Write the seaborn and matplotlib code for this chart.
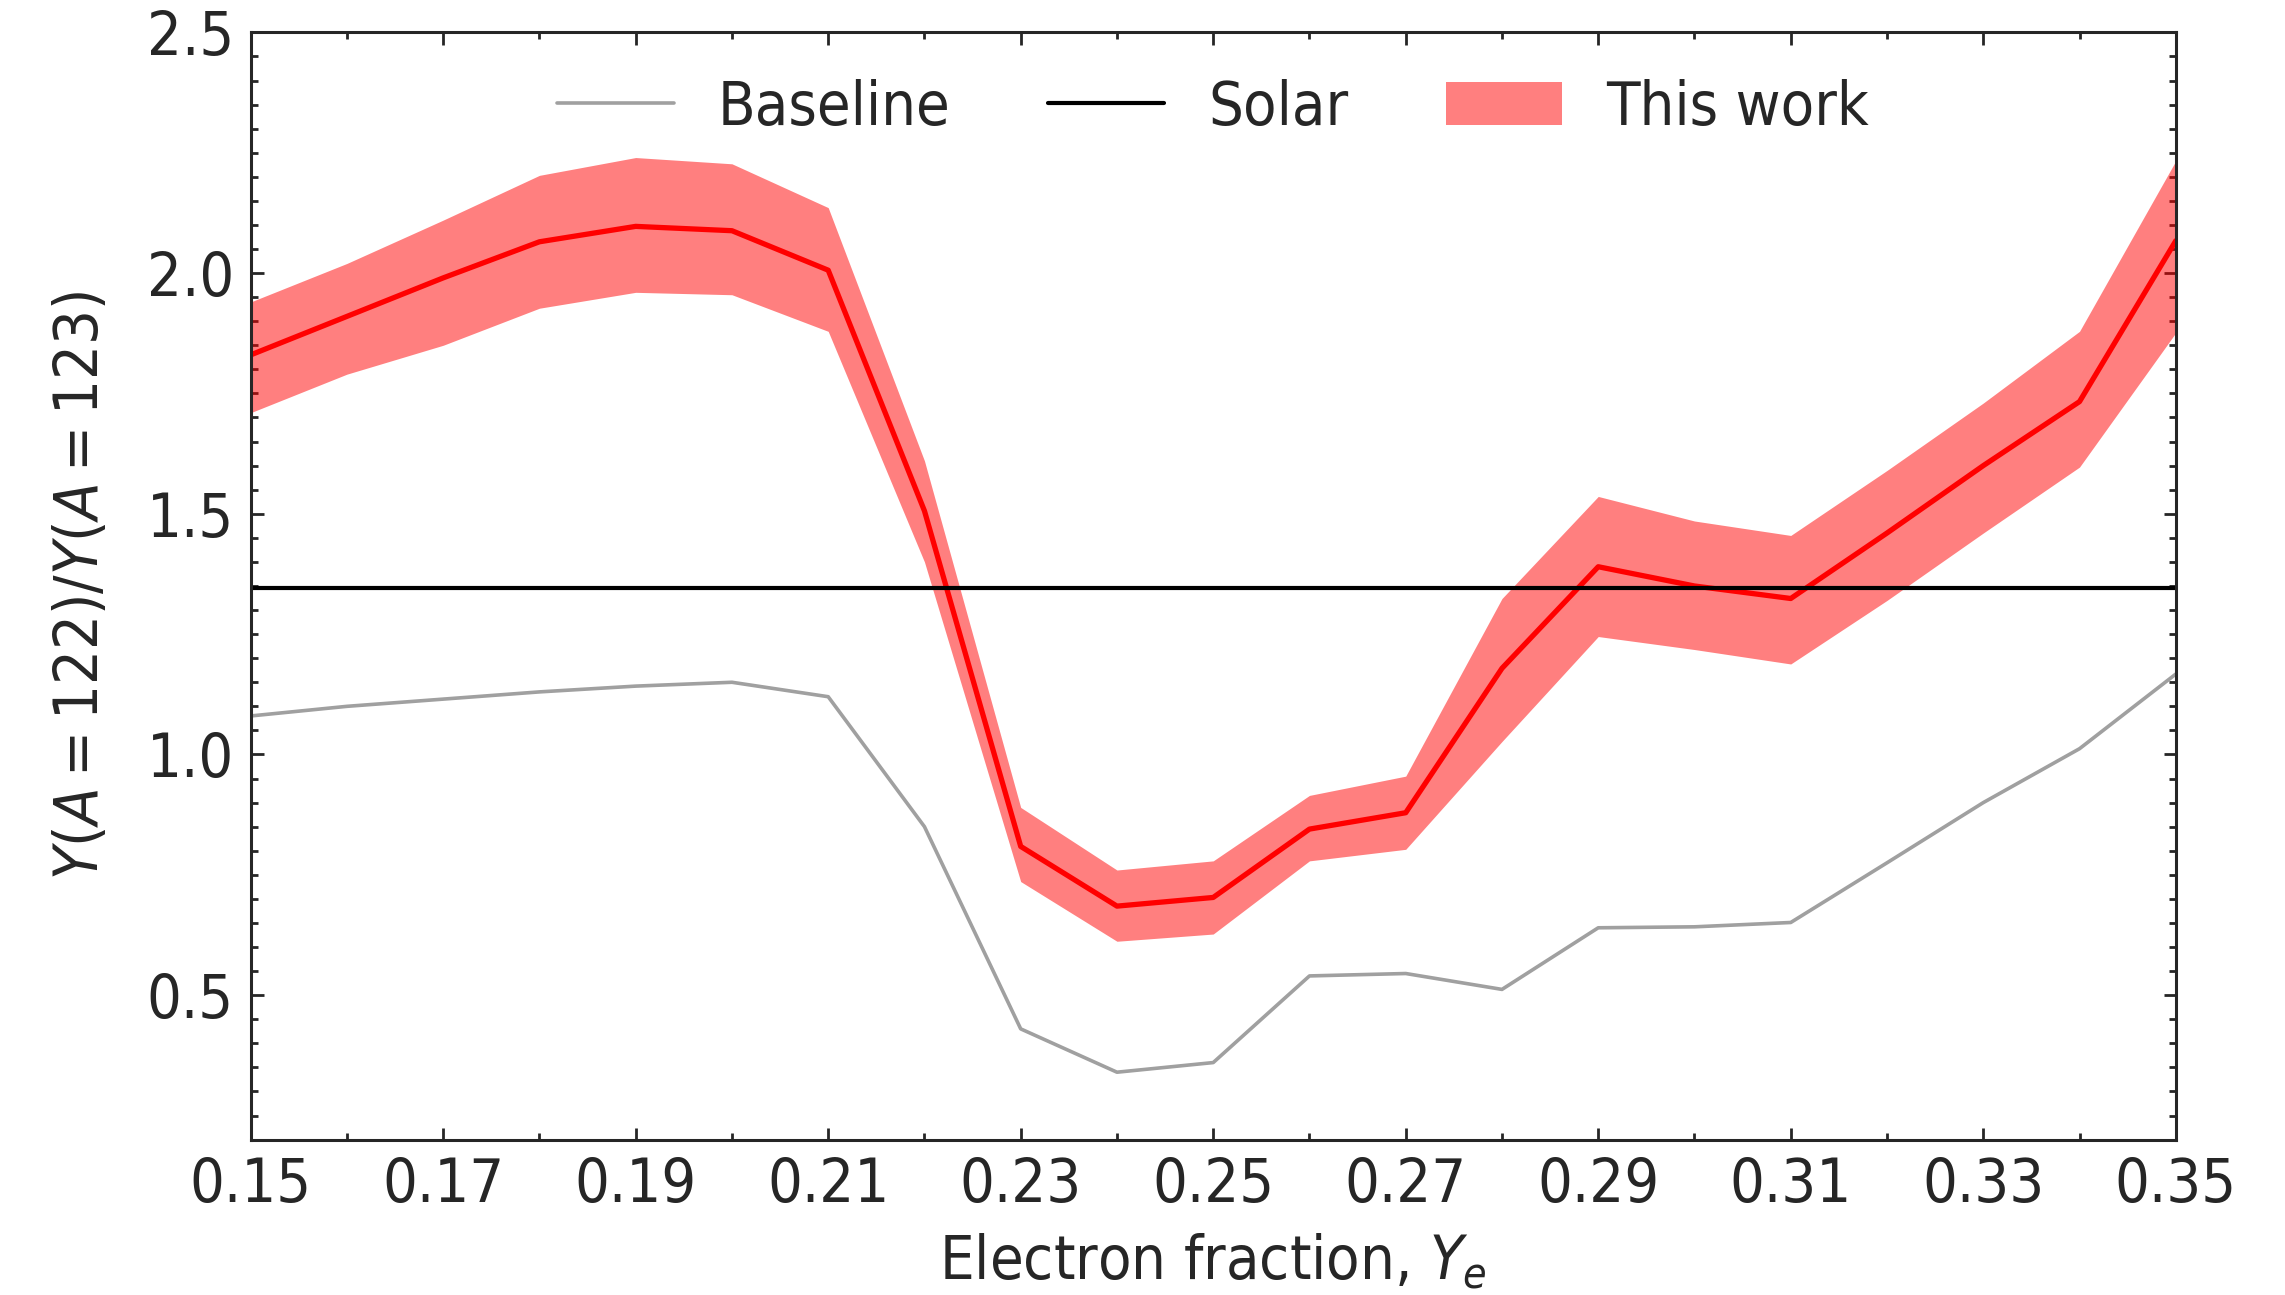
import numpy as np
import pandas as pd
import seaborn as sns
import matplotlib.pyplot as plt
from matplotlib.patches import Patch
from matplotlib.lines import Line2D
from matplotlib.ticker import FixedLocator, MultipleLocator
from matplotlib import font_manager

# electron fraction grid
ye = [0.15, 0.16, 0.17, 0.18, 0.19, 0.20, 0.21, 0.22, 0.23, 0.24, 0.25,
      0.26, 0.27, 0.28, 0.29, 0.30, 0.31, 0.32, 0.33, 0.34, 0.35]

# Y(122)/Y(123) ratios
baseline = [1.08, 1.10, 1.115, 1.13, 1.142, 1.15, 1.12, 0.85, 0.43, 0.34, 0.36,
            0.54, 0.545, 0.512, 0.64, 0.642, 0.651, 0.775, 0.90, 1.012, 1.167]
this_work = [1.83, 1.91, 1.99, 2.065, 2.097, 2.088, 2.006, 1.506, 0.809, 0.685, 0.703,
             0.845, 0.879, 1.179, 1.39, 1.35, 1.324, 1.46, 1.60, 1.733, 2.067]
upper = [1.94, 2.02, 2.11, 2.203, 2.24, 2.227, 2.136, 1.61, 0.89, 0.76, 0.779,
         0.915, 0.955, 1.324, 1.536, 1.485, 1.455, 1.59, 1.73, 1.879, 2.233]
lower = [1.71, 1.79, 1.85, 1.927, 1.96, 1.955, 1.879, 1.40, 0.736, 0.612, 0.627,
         0.779, 0.803, 1.027, 1.245, 1.218, 1.188, 1.32, 1.46, 1.597, 1.876]
solar = 1.345

xticks = [0.15, 0.17, 0.19, 0.21, 0.23, 0.25, 0.27, 0.29, 0.31, 0.33, 0.35]

df = pd.DataFrame({'ye': ye, 'baseline': baseline, 'this_work': this_work,
                   'upper': upper, 'lower': lower})

sns.set_style('ticks')
plt.rcParams['font.family'] = ['DejaVu Sans']
plt.rcParams['mathtext.fontset'] = 'dejavusans'

# the original text is narrow; use the condensed face if it is there
cond = any('Condensed' in f.fname and 'DejaVuSans' in f.fname
           for f in font_manager.fontManager.ttflist)
if cond:
    plt.rcParams['font.stretch'] = 'condensed'
fs = 44 if cond else 41

fig = plt.figure(figsize=(22.85, 12.95), dpi=100)
ax = fig.add_axes([0.1097, 0.12, 0.8425, 0.855])

ax.fill_between(df['ye'], df['lower'], df['upper'], color='red', alpha=0.5,
                linewidth=0)
sns.lineplot(data=df, x='ye', y='this_work', color='red', linewidth=3.8, ax=ax)
sns.lineplot(data=df, x='ye', y='baseline', color='gray', alpha=0.75,
             linewidth=2.6, ax=ax)
ax.axhline(solar, color='black', linewidth=3)

ax.set_xlim(0.15, 0.35)
ax.set_ylim(0.2, 2.5)
ax.xaxis.set_major_locator(FixedLocator(xticks))
ax.xaxis.set_minor_locator(MultipleLocator(0.01))
ax.yaxis.set_major_locator(MultipleLocator(0.5))
ax.yaxis.set_minor_locator(MultipleLocator(0.05))
ax.set_xticklabels(['%.2f' % v for v in xticks])
ax.tick_params(which='both', direction='in', top=True, right=True,
               width=2, labelsize=fs, pad=12)
ax.tick_params(which='major', length=9)
ax.tick_params(which='minor', length=5)
for s in ax.spines.values():
    s.set_linewidth(2.2)

ax.set_xlabel(r'Electron fraction, $Y_e$', fontsize=fs, labelpad=12)
ax.set_ylabel(r'$Y(A = 122)/Y(A = 123)$', fontsize=fs, labelpad=26)

handles = [Line2D([], [], color='gray', alpha=0.75, linewidth=2.6),
           Line2D([], [], color='black', linewidth=3),
           Patch(facecolor='red', alpha=0.5, linewidth=0)]
ax.legend(handles, ['Baseline', 'Solar', 'This work'], loc='upper center',
          ncol=3, frameon=False, fontsize=fs, handlelength=1.9,
          handletextpad=0.72, columnspacing=1.6, bbox_to_anchor=(0.5, 1.008))

fig.savefig('out.png', dpi=100)
